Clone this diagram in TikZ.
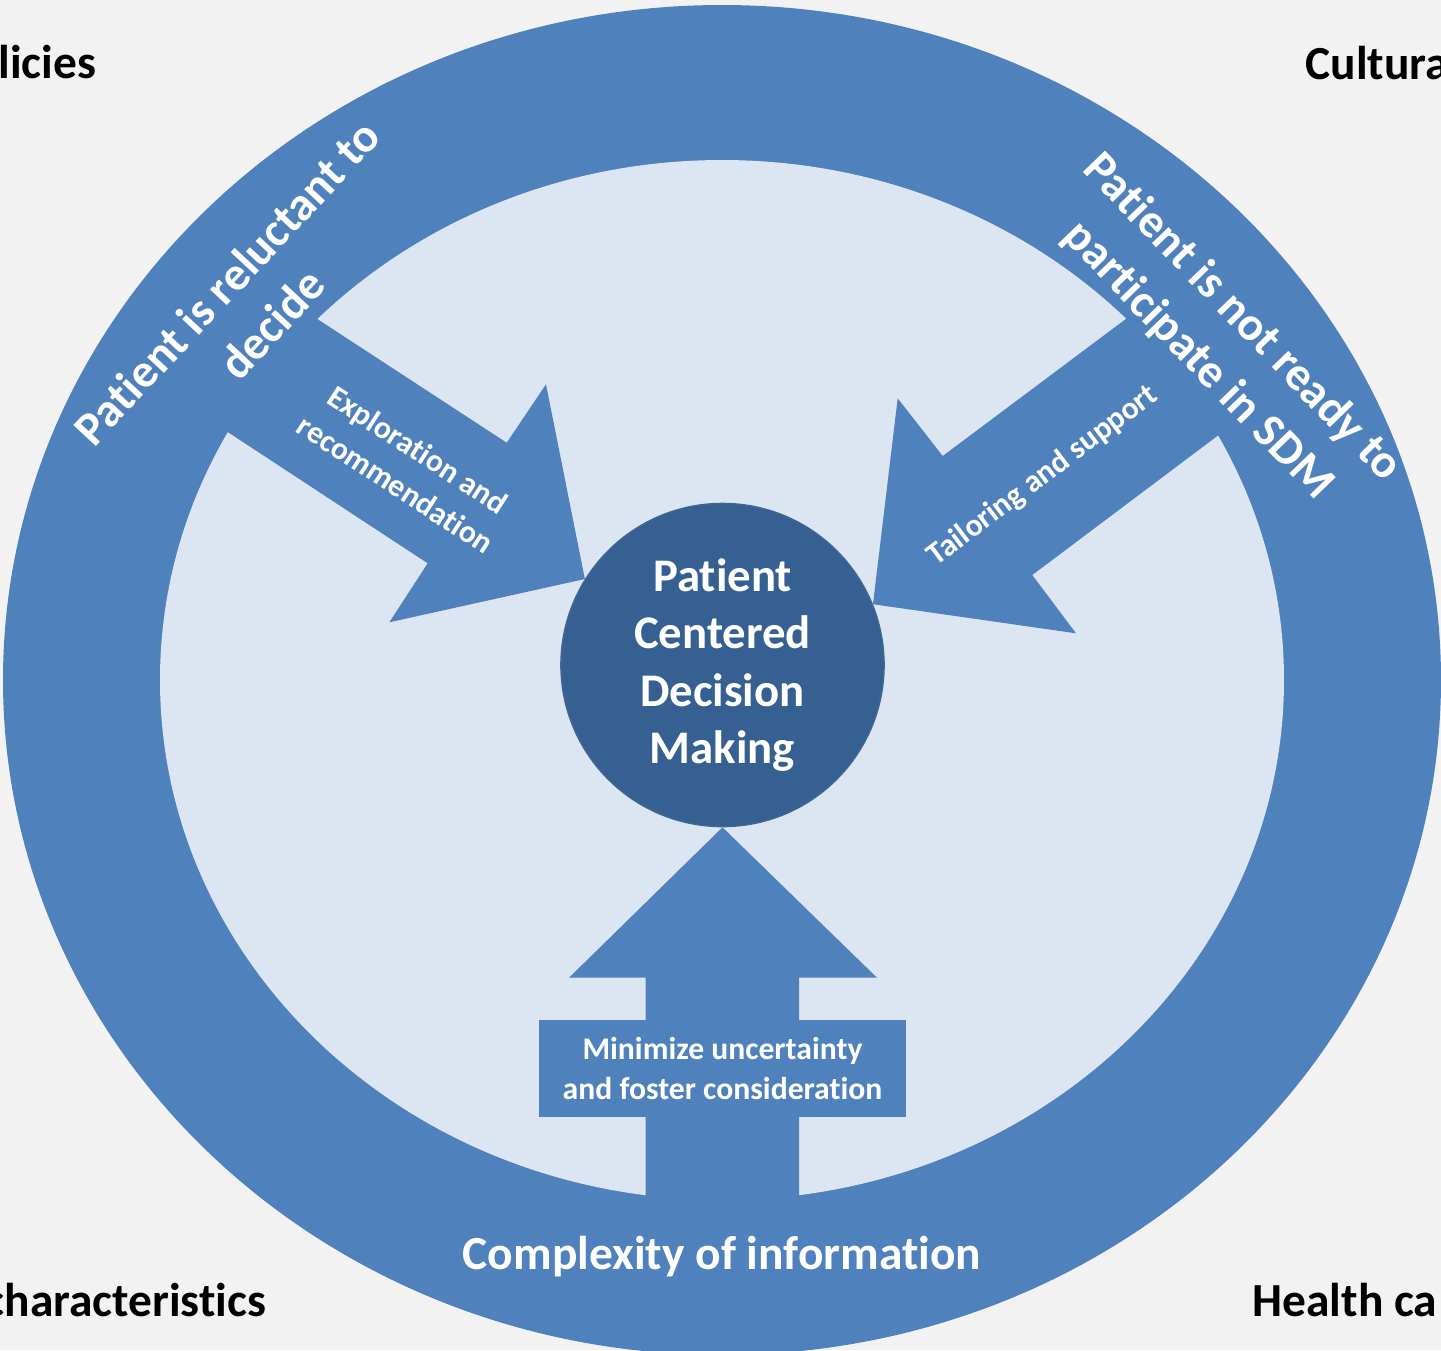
\documentclass[tikz,border=0pt]{standalone}
\usepackage{fontspec}
\setmainfont[Ligatures = NoCommon]{Carlito}
\definecolor{ringblue}{HTML}{4F81BD}
\definecolor{innerblue}{HTML}{DCE6F2}
\definecolor{coreblue}{HTML}{376092}
\definecolor{backgrey}{HTML}{F2F2F2}

\begin{document}
\begin{tikzpicture}[x = 0.01cm, y = -0.01cm,
    ringtext/.style = {text = white, align = center, inner sep = 0pt,
      font = \fontsize{13.5}{17.4}\selectfont\bfseries},
    smalltext/.style = {text = white, align = center, inner sep = 0pt,
      font = \fontsize{9}{11.7}\selectfont\bfseries},
    cornertext/.style = {text = black, inner sep = 0pt,
      font = \fontsize{13.5}{16}\selectfont\bfseries}]
    \useasboundingbox (0, 0) rectangle (1441, 1350);
    \clip (0, 0) rectangle (1441, 1350);
    \fill[backgrey] (0, 0) rectangle (1441, 1350);

    \fill[ringblue] (722, 680) ellipse (719 and 675);
    \fill[innerblue] (722, 680) ellipse (562 and 520);

    \node[circle, fill = coreblue, draw = {rgb,255:red,64;green,102;blue,146},
      minimum size = 3.23cm, inner sep = 0pt, text = white, align = center,
      font = \fontsize{13.3}{16.3}\selectfont\bfseries]
      (pcdm) at (722.5, 665) {Patient\\Centered\\Decision\\Making};

    \fill[ringblue] (pcdm.148) -- (546, 384.3) -- (506.7, 442.7) -- (250.7, 275.5)
      -- (160.7, 388) -- (427.7, 563.3) -- (389.3, 622.3) -- cycle;
    \fill[ringblue] (pcdm.22.5) -- (897.7, 398.3) -- (942.7, 456) -- (1190.8, 270.4)
      -- (1282.4, 387.1) -- (1032.3, 575) -- (1076, 633.3) -- cycle;
    \fill[ringblue] (pcdm.south) -- (877, 977.7) -- (799, 977.7) -- (799, 1260)
      -- (645.7, 1260) -- (645.7, 977.7) -- (569, 977.7) -- cycle;

    \node[smalltext, fill = ringblue, minimum width = 3.67cm, minimum height = 0.97cm,
      font = \fontsize{9}{11.3}\selectfont\bfseries]
      (minbox) at (722.5, 1068.5) {Minimize uncertainty\\and foster consideration};

    \node[ringtext, rotate = 47] (reluctant) at (249, 303) {Patient is reluctant to\\decide};
    \node[ringtext, rotate = -46] (notready) at (1220, 339) {Patient is not ready to\\participate in SDM};
    \node[ringtext, anchor = base] (complexity) at (722, 1269) {Complexity of information};

    \node[smalltext, rotate = -33] (explore) at (407, 467) {Exploration and\\recommendation};
    \node[smalltext, rotate = 37] (tailor) at (1043, 476) {Tailoring and support};

    \node[cornertext, anchor = base east] (policies) at (97, 78) {licies};
    \node[cornertext, anchor = base west] (cultural) at (1305, 79) {Cultura};
    \node[cornertext, anchor = base east] (patchar) at (267, 1316) {characteristics};
    \node[cornertext, anchor = base west] (healthcare) at (1252, 1316) {Health ca};
\end{tikzpicture}
\end{document}
